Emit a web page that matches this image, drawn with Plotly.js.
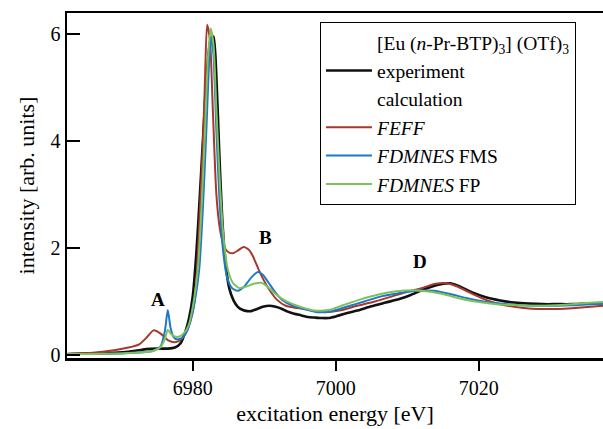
<!DOCTYPE html>
<html>
<head>
<meta charset="utf-8">
<script src="https://cdn.plot.ly/plotly-3.0.1.min.js"></script>
<style>
  body { margin: 0; background: #fff; }
  #grafico { width: 603px; height: 429px; }
</style>
</head>
<body>
<div id="grafico"></div>
<script>
// datos (energia en eV, intensidad en unidades arb.)
const expE = [6962.5, 6966, 6969, 6971, 6972.5, 6973.5, 6975, 6976.5, 6977.5, 6978.3, 6979, 6979.5, 6980, 6980.5, 6981, 6981.5, 6982, 6982.5, 6982.9, 6983.3, 6983.7, 6984.1, 6984.6, 6985.1, 6985.7, 6986.3, 6987, 6987.6, 6988.2, 6989, 6989.8, 6990.7, 6991.6, 6992.5, 6993.3, 6994.2, 6995.2, 6996.1, 6997, 6998, 6999, 7000, 7001.5, 7003, 7005, 7007, 7009, 7010.5, 7012, 7013.5, 7015, 7016, 7017, 7018, 7019.3, 7021, 7023, 7025, 7027, 7029, 7031, 7033, 7035, 7037.5];
const expI = [0.02, 0.03, 0.04, 0.06, 0.09, 0.11, 0.12, 0.12, 0.14, 0.22, 0.45, 0.7, 1.1, 1.9, 3.0, 4.2, 5.3, 5.9, 5.95, 5.2, 3.8, 2.6, 1.7, 1.25, 1.02, 0.9, 0.84, 0.82, 0.82, 0.86, 0.9, 0.92, 0.9, 0.86, 0.81, 0.77, 0.74, 0.71, 0.7, 0.69, 0.69, 0.72, 0.78, 0.83, 0.91, 0.98, 1.05, 1.12, 1.21, 1.28, 1.33, 1.34, 1.3, 1.24, 1.16, 1.08, 1.02, 0.98, 0.96, 0.95, 0.95, 0.95, 0.96, 0.97];

const feffE = [6962.5, 6966, 6969, 6971, 6972.5, 6973.5, 6974.5, 6975.5, 6976.5, 6977.5, 6978.3, 6979, 6979.6, 6980.2, 6980.6, 6981.0, 6981.4, 6981.7, 6982.0, 6982.4, 6982.8, 6983.3, 6983.8, 6984.4, 6985.0, 6985.6, 6986.3, 6987.1, 6987.8, 6988.4, 6989.2, 6990.0, 6990.8, 6991.8, 6993, 6994.5, 6995.5, 6997, 6998.5, 7000.5, 7003, 7005.5, 7008, 7010, 7012, 7014, 7015.5, 7017, 7019, 7021, 7023, 7025, 7027, 7029, 7031, 7033.5, 7037.5];
const feffI = [0.02, 0.04, 0.09, 0.14, 0.2, 0.32, 0.46, 0.4, 0.28, 0.24, 0.28, 0.4, 0.6, 0.95, 1.6, 2.7, 3.9, 5.1, 6.17, 5.9, 4.6, 3.0, 2.35, 2.02, 1.92, 1.9, 1.95, 2.02, 1.97, 1.85, 1.6, 1.38, 1.2, 1.03, 0.92, 0.88, 0.87, 0.82, 0.8, 0.83, 0.92, 1.0, 1.1, 1.18, 1.25, 1.33, 1.34, 1.28, 1.15, 1.03, 0.95, 0.9, 0.87, 0.86, 0.86, 0.88, 0.92];

const fmsE = [6962.5, 6966, 6970, 6973, 6974.5, 6975.5, 6976.1, 6976.5, 6976.9, 6977.3, 6977.8, 6978.5, 6979.2, 6979.8, 6980.4, 6980.9, 6981.4, 6981.9, 6982.3, 6982.6, 6982.9, 6983.3, 6983.7, 6984.2, 6984.8, 6985.5, 6986.3, 6987.2, 6988.2, 6989.1, 6989.8, 6990.6, 6991.5, 6992.5, 6994, 6995.5, 6997.5, 6999.5, 7001.5, 7004, 7006.5, 7009, 7011.5, 7013.7, 7016, 7018.4, 7021, 7023, 7026, 7029, 7033, 7037.5];
const fmsI = [0.02, 0.02, 0.03, 0.05, 0.08, 0.16, 0.45, 0.84, 0.5, 0.34, 0.29, 0.32, 0.45, 0.7, 1.1, 1.6, 2.7, 4.2, 5.5, 5.95, 5.6, 4.2, 3.0, 2.0, 1.45, 1.25, 1.2, 1.28, 1.45, 1.55, 1.5, 1.35, 1.18, 1.03, 0.92, 0.86, 0.8, 0.82, 0.9, 1.0, 1.1, 1.16, 1.2, 1.2, 1.14, 1.06, 0.99, 0.96, 0.93, 0.92, 0.93, 0.96];

const fpE = [6962.5, 6966, 6970, 6973, 6974.5, 6975.5, 6976.1, 6976.5, 6976.9, 6977.4, 6978, 6978.7, 6979.4, 6980, 6980.7, 6981.2, 6981.7, 6982.1, 6982.5, 6982.9, 6983.3, 6983.8, 6984.3, 6984.9, 6985.6, 6986.5, 6987.5, 6988.5, 6989.6, 6990.5, 6991.5, 6992.5, 6994, 6995.5, 6997, 6999, 7001, 7003.5, 7006, 7008.5, 7011, 7013.3, 7015.5, 7017.5, 7020, 7022.5, 7025.5, 7028.7, 7032, 7035, 7037.5];
const fpI = [0.02, 0.02, 0.03, 0.05, 0.08, 0.15, 0.3, 0.47, 0.4, 0.35, 0.34, 0.4, 0.55, 0.9, 1.6, 2.7, 4.2, 5.5, 6.1, 5.8, 4.6, 3.2, 2.2, 1.6, 1.35, 1.25, 1.28, 1.33, 1.35, 1.27, 1.15, 1.05, 0.95, 0.88, 0.83, 0.84, 0.93, 1.04, 1.13, 1.19, 1.21, 1.18, 1.12, 1.05, 0.99, 0.95, 0.93, 0.92, 0.94, 0.97, 0.99];

// etiquetas de los picos
const picoTexto = ["A", "B", "D"];
const picoE = [6975.1, 6990.2, 7011.8];
const picoI = [1.03, 2.19, 1.74];

const serif = "Liberation Serif, Times New Roman, serif";

// entradas vacias solo para la leyenda
function entradaVacia(nombre) {
    return {
        x: [null], y: [null], type: 'scatter', mode: 'lines', name: nombre,
        line: { color: 'rgba(0,0,0,0)', width: 2 }, hoverinfo: 'skip'
    };
}

var data = [
    entradaVacia("[Eu (<i>n</i>-Pr-BTP)<sub>3</sub>] (OTf)<sub>3</sub>"),
    { x: expE, y: expI, type: 'scatter', mode: 'lines', name: 'experiment',
      line: { color: '#111111', width: 2.6, shape: 'spline', smoothing: 0.6 } },
    entradaVacia("calculation"),
    { x: feffE, y: feffI, type: 'scatter', mode: 'lines', name: '<i>FEFF</i>',
      line: { color: '#a8382c', width: 2, shape: 'spline', smoothing: 0.6 } },
    { x: fmsE, y: fmsI, type: 'scatter', mode: 'lines', name: '<i>FDMNES</i> FMS',
      line: { color: '#1f78c6', width: 2, shape: 'spline', smoothing: 0.6 } },
    { x: fpE, y: fpI, type: 'scatter', mode: 'lines', name: '<i>FDMNES</i> FP',
      line: { color: '#7cc25c', width: 2, shape: 'spline', smoothing: 0.6 } }
];

var anotaciones = picoTexto.map(function (t, i) {
    return {
        x: picoE[i], y: picoI[i], text: '<b>' + t + '</b>', showarrow: false,
        font: { family: serif, size: 19, color: '#000' }
    };
});

var layout = {
    width: 603, height: 429,
    margin: { l: 67, r: 0, t: 13, b: 71 },
    paper_bgcolor: '#fff', plot_bgcolor: '#fff',
    font: { family: serif, size: 20, color: '#000' },
    showlegend: true,
    legend: {
        x: 0.472, y: 0.974, xanchor: 'left', yanchor: 'top',
        bgcolor: '#fff', bordercolor: '#000', borderwidth: 1,
        font: { family: serif, size: 19.5, color: '#000' },
        itemwidth: 46, tracegroupgap: 0
    },
    xaxis: {
        range: [6962.4, 7037.4], tickvals: [6980, 7000, 7020],
        ticks: 'outside', ticklen: 10, tickwidth: 2, tickcolor: '#000',
        showline: true, linewidth: 2.5, linecolor: '#000', mirror: true,
        showgrid: false, zeroline: false,
        tickfont: { family: serif, size: 20 },
        title: { text: 'excitation energy [eV]', font: { family: serif, size: 22 }, standoff: 8 }
    },
    yaxis: {
        range: [-0.056, 6.39], tickvals: [0, 2, 4, 6],
        ticks: 'inside', ticklen: 13, tickwidth: 2, tickcolor: '#000',
        showline: true, linewidth: 2.5, linecolor: '#000',
        showgrid: false, zeroline: false,
        tickfont: { family: serif, size: 20 },
        title: { text: 'intensity [arb. units]', font: { family: serif, size: 22 }, standoff: 10 }
    },
    annotations: anotaciones
};

Plotly.newPlot('grafico', data, layout, { staticPlot: true });
</script>
</body>
</html>
